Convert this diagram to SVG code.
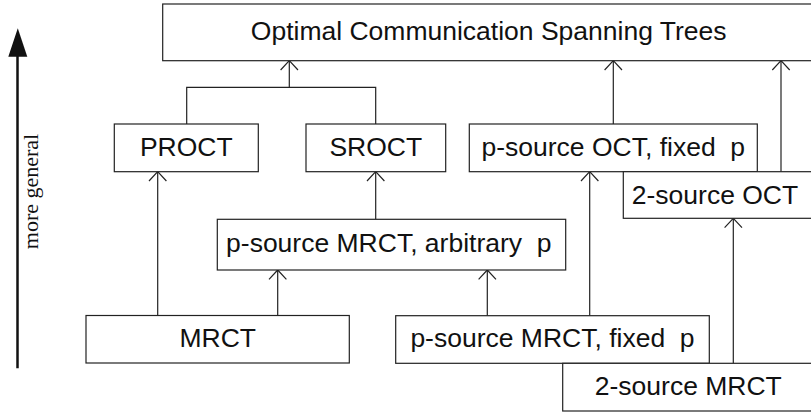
<svg xmlns="http://www.w3.org/2000/svg" width="811" height="412" viewBox="0 0 811 412">
  <style>
    .box { fill: #ffffff; stroke: #222222; stroke-width: 1.2; }
    .lbl { font-family: "Liberation Sans", Arial, sans-serif; font-size: 26.5px; fill: #111111; text-anchor: middle; }
    .edge { fill: none; stroke: #222222; stroke-width: 1.2; }
    .axis { font-family: "Liberation Serif", "Times New Roman", serif; font-size: 22px; fill: #111111; text-anchor: middle; }
  </style>
  <defs>
    <marker id="open" markerUnits="userSpaceOnUse" markerWidth="24" markerHeight="24" viewBox="-12 -12 24 24" refX="0" refY="0" orient="auto" overflow="visible">
      <path d="M-9.3,-8.7 L0,0 L-9.3,8.7" fill="none" stroke="#222222" stroke-width="1.2"/>
    </marker>
  </defs>
  <rect width="811" height="412" fill="#ffffff"/>

  <g id="connectors">
    <path class="edge" d="M186.7,124 V87.3 H375.7 V124"/>
    <path class="edge" d="M289.3,87.3 V60.7" marker-end="url(#open)"/>
    <path class="edge" d="M613.3,124 V60.7" marker-end="url(#open)"/>
    <path class="edge" d="M781,171.7 V60.7" marker-end="url(#open)"/>
    <path class="edge" d="M157.7,315.5 V171.7" marker-end="url(#open)"/>
    <path class="edge" d="M375.7,219.3 V171.7" marker-end="url(#open)"/>
    <path class="edge" d="M277.7,315.5 V270" marker-end="url(#open)"/>
    <path class="edge" d="M487.3,315.7 V270" marker-end="url(#open)"/>
    <path class="edge" d="M589.7,315.7 V171.7" marker-end="url(#open)"/>
    <path class="edge" d="M733.3,363.3 V218.3" marker-end="url(#open)"/>
  </g>

  <g id="axis">
    <line x1="17.5" y1="368.3" x2="17.5" y2="50" stroke="#111111" stroke-width="2.5"/>
    <polygon points="17.8,28.3 8.3,56.7 27.3,56.7" fill="#111111"/>
    <text class="axis" transform="translate(37.5,191.5) rotate(-90)">more general</text>
  </g>

  <g id="ocst">
    <rect class="box" x="162.7" y="4" width="652" height="56.7"/>
    <text class="lbl" x="488.7" y="40">Optimal Communication Spanning Trees</text>
  </g>
  <g id="proct">
    <rect class="box" x="114.3" y="124" width="144" height="47.7"/>
    <text class="lbl" x="186.3" y="155.7">PROCT</text>
  </g>
  <g id="sroct">
    <rect class="box" x="306" y="124" width="139.7" height="47.7"/>
    <text class="lbl" x="375.8" y="155.7">SROCT</text>
  </g>
  <g id="psource-oct">
    <rect class="box" x="469.3" y="124" width="288" height="47.7"/>
    <text class="lbl" x="613.3" y="155.7" xml:space="preserve">p-source OCT, fixed  p</text>
  </g>
  <g id="two-source-oct">
    <rect class="box" x="623.3" y="171.7" width="192" height="46.6"/>
    <text class="lbl" x="715" y="203.6">2-source OCT</text>
  </g>
  <g id="psource-mrct-arbitrary">
    <rect class="box" x="217.3" y="219.3" width="348.4" height="50.7"/>
    <text class="lbl" x="388.8" y="251.5" xml:space="preserve">p-source MRCT, arbitrary  p</text>
  </g>
  <g id="mrct">
    <rect class="box" x="86" y="315.5" width="263.3" height="47.5"/>
    <text class="lbl" x="217.7" y="347.2">MRCT</text>
  </g>
  <g id="psource-mrct-fixed">
    <rect class="box" x="395.7" y="315.7" width="313.6" height="47.6"/>
    <text class="lbl" x="552.5" y="347.4" xml:space="preserve">p-source MRCT, fixed  p</text>
  </g>
  <g id="two-source-mrct">
    <rect class="box" x="562.7" y="363.3" width="252" height="47.7"/>
    <text class="lbl" x="688.3" y="395">2-source MRCT</text>
  </g>
</svg>
